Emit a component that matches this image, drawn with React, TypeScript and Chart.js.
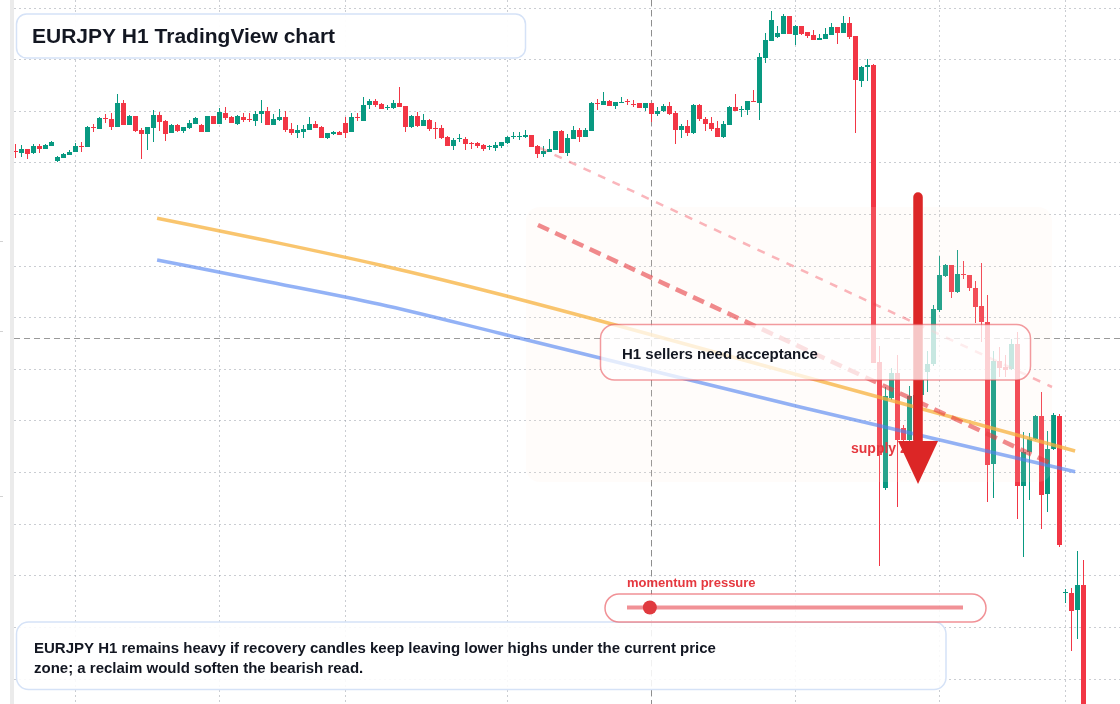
import React, { useEffect, useRef } from 'react';
import { Chart, registerables } from 'chart.js';

Chart.register(...registerables);

const FONT = '"Liberation Sans", Arial, Helvetica, sans-serif';

// ---- EURJPY H1 candles (one per hour) ----
const opens = [
  163.396, 163.388, 163.404, 163.388, 163.416, 163.404, 163.416, 163.356, 163.368, 163.380,
  163.392, 163.416, 163.412, 163.492, 163.484, 163.528, 163.524, 163.492, 163.588, 163.500,
  163.536, 163.480, 163.464, 163.488, 163.540, 163.516, 163.468, 163.500, 163.476, 163.488,
  163.504, 163.500, 163.472, 163.536, 163.504, 163.548, 163.532, 163.504, 163.532, 163.524,
  163.516, 163.544, 163.556, 163.500, 163.520, 163.532, 163.484, 163.468, 163.472, 163.480,
  163.504, 163.492, 163.448, 163.464, 163.472, 163.508, 163.472, 163.532, 163.516, 163.580,
  163.596, 163.584, 163.568, 163.568, 163.588, 163.576, 163.492, 163.536, 163.496, 163.520,
  163.488, 163.488, 163.452, 163.416, 163.444, 163.444, 163.428, 163.428, 163.420, 163.412,
  163.408, 163.416, 163.428, 163.452, 163.452, 163.452, 163.460, 163.416, 163.384, 163.392,
  163.400, 163.476, 163.388, 163.444, 163.480, 163.452, 163.476, 163.588, 163.580, 163.596,
  163.576, 163.588, 163.596, 163.584, 163.588, 163.568, 163.588, 163.544, 163.556, 163.576,
  163.548, 163.480, 163.496, 163.468, 163.580, 163.524, 163.508, 163.488, 163.452, 163.500,
  163.572, 163.560, 163.560, 163.596, 163.588, 163.768, 163.836, 163.852, 163.864, 163.936,
  163.860, 163.896, 163.872, 163.860, 163.840, 163.844, 163.860, 163.892, 163.868, 163.908,
  163.856, 163.676, 163.732, 163.740, 162.552, 162.048, 162.408, 162.508, 162.288, 162.240,
  162.240, 162.420, 162.512, 162.544, 162.760, 162.896, 162.940, 162.832, 162.904, 162.900,
  162.848, 162.776, 162.712, 162.144, 162.556, 162.532, 162.524, 162.624, 162.056, 162.192,
  162.244, 162.336, 162.024, 162.204, 162.336, 161.628, 161.628, 161.560, 161.660,
];
const highs = [
  163.424, 163.420, 163.404, 163.424, 163.424, 163.424, 163.436, 163.376, 163.388, 163.400,
  163.428, 163.432, 163.496, 163.504, 163.532, 163.544, 163.548, 163.624, 163.600, 163.540,
  163.536, 163.488, 163.492, 163.560, 163.552, 163.520, 163.504, 163.504, 163.492, 163.520,
  163.532, 163.504, 163.536, 163.536, 163.568, 163.572, 163.536, 163.540, 163.548, 163.548,
  163.556, 163.600, 163.572, 163.544, 163.564, 163.556, 163.508, 163.500, 163.500, 163.532,
  163.516, 163.496, 163.468, 163.476, 163.476, 163.532, 163.548, 163.548, 163.612, 163.604,
  163.604, 163.588, 163.580, 163.600, 163.652, 163.576, 163.540, 163.552, 163.544, 163.524,
  163.512, 163.500, 163.456, 163.448, 163.464, 163.452, 163.432, 163.432, 163.424, 163.420,
  163.432, 163.432, 163.456, 163.472, 163.472, 163.480, 163.460, 163.420, 163.416, 163.444,
  163.476, 163.480, 163.464, 163.496, 163.488, 163.488, 163.592, 163.604, 163.632, 163.600,
  163.592, 163.612, 163.604, 163.600, 163.588, 163.588, 163.588, 163.572, 163.584, 163.592,
  163.556, 163.504, 163.520, 163.584, 163.584, 163.532, 163.532, 163.516, 163.516, 163.576,
  163.624, 163.576, 163.596, 163.640, 163.788, 163.868, 163.956, 163.896, 163.944, 163.936,
  163.900, 163.896, 163.872, 163.880, 163.864, 163.888, 163.908, 163.892, 163.936, 163.932,
  163.856, 163.736, 163.764, 163.744, 162.616, 162.452, 162.528, 162.580, 162.300, 162.456,
  162.448, 162.512, 162.596, 162.780, 162.976, 162.944, 162.940, 163.000, 162.956, 162.900,
  162.876, 162.948, 162.820, 162.596, 162.612, 162.580, 162.644, 162.672, 162.272, 162.268,
  162.340, 162.432, 162.276, 162.348, 162.344, 161.644, 161.648, 161.796, 161.760,
];
const lows = [
  163.368, 163.372, 163.364, 163.384, 163.388, 163.404, 163.416, 163.352, 163.368, 163.380,
  163.392, 163.392, 163.412, 163.472, 163.484, 163.508, 163.480, 163.492, 163.500, 163.500,
  163.472, 163.364, 163.400, 163.432, 163.476, 163.436, 163.468, 163.472, 163.468, 163.484,
  163.504, 163.472, 163.472, 163.504, 163.504, 163.520, 163.508, 163.500, 163.512, 163.512,
  163.496, 163.508, 163.500, 163.500, 163.516, 163.472, 163.460, 163.448, 163.448, 163.480,
  163.488, 163.448, 163.444, 163.460, 163.460, 163.448, 163.472, 163.516, 163.516, 163.564,
  163.572, 163.564, 163.560, 163.564, 163.572, 163.472, 163.488, 163.492, 163.496, 163.476,
  163.444, 163.444, 163.416, 163.400, 163.432, 163.400, 163.404, 163.408, 163.396, 163.400,
  163.396, 163.408, 163.424, 163.444, 163.440, 163.448, 163.412, 163.368, 163.372, 163.392,
  163.400, 163.388, 163.376, 163.444, 163.432, 163.452, 163.476, 163.560, 163.580, 163.576,
  163.564, 163.588, 163.580, 163.572, 163.568, 163.556, 163.512, 163.536, 163.552, 163.540,
  163.424, 163.448, 163.456, 163.464, 163.516, 163.476, 163.476, 163.452, 163.448, 163.500,
  163.556, 163.532, 163.540, 163.592, 163.520, 163.748, 163.836, 163.848, 163.864, 163.864,
  163.820, 163.860, 163.848, 163.840, 163.840, 163.844, 163.860, 163.824, 163.868, 163.844,
  163.468, 163.652, 163.676, 162.548, 161.736, 162.040, 162.400, 161.972, 162.220, 162.216,
  162.216, 162.408, 162.432, 162.536, 162.752, 162.892, 162.808, 162.828, 162.884, 162.836,
  162.708, 162.632, 161.992, 162.008, 162.492, 162.492, 162.520, 161.924, 161.772, 162.000,
  162.240, 161.884, 161.952, 162.200, 161.812, 161.588, 161.396, 161.444, 161.120,
];
const closes = [
  163.392, 163.404, 163.384, 163.416, 163.404, 163.420, 163.432, 163.372, 163.384, 163.392,
  163.416, 163.412, 163.492, 163.488, 163.528, 163.524, 163.492, 163.588, 163.500, 163.536,
  163.476, 163.464, 163.492, 163.540, 163.512, 163.464, 163.500, 163.476, 163.492, 163.508,
  163.528, 163.472, 163.536, 163.504, 163.552, 163.528, 163.508, 163.536, 163.520, 163.520,
  163.544, 163.556, 163.500, 163.524, 163.532, 163.480, 163.468, 163.480, 163.484, 163.504,
  163.488, 163.448, 163.468, 163.472, 163.460, 163.468, 163.532, 163.528, 163.580, 163.596,
  163.580, 163.564, 163.572, 163.588, 163.572, 163.492, 163.536, 163.496, 163.520, 163.484,
  163.484, 163.448, 163.416, 163.440, 163.448, 163.424, 163.424, 163.416, 163.404, 163.416,
  163.420, 163.432, 163.452, 163.456, 163.456, 163.460, 163.412, 163.384, 163.396, 163.404,
  163.476, 163.388, 163.448, 163.480, 163.452, 163.480, 163.588, 163.584, 163.596, 163.576,
  163.592, 163.592, 163.592, 163.580, 163.568, 163.588, 163.544, 163.556, 163.576, 163.544,
  163.480, 163.496, 163.468, 163.580, 163.524, 163.504, 163.484, 163.452, 163.504, 163.572,
  163.556, 163.564, 163.596, 163.592, 163.772, 163.840, 163.920, 163.868, 163.936, 163.864,
  163.896, 163.864, 163.856, 163.840, 163.848, 163.864, 163.892, 163.868, 163.908, 163.852,
  163.680, 163.732, 163.740, 162.548, 162.180, 162.416, 162.508, 162.240, 162.240, 162.416,
  162.420, 162.480, 162.544, 162.764, 162.900, 162.940, 162.832, 162.904, 162.900, 162.848,
  162.772, 162.712, 162.140, 162.556, 162.528, 162.520, 162.624, 162.056, 162.192, 162.244,
  162.336, 162.020, 162.204, 162.340, 161.820, 161.632, 161.556, 161.660, 161.120,
];

// day separators (candle index) and price grid levels
const dayGridIndex = [10, 34, 55, 82, 106, 130, 154, 175];
const priceGrid = [
  163.968, 163.7615, 163.5551, 163.3486, 163.1422, 162.9357, 162.7292,
  162.5228, 162.3163, 162.1099, 161.9034, 161.6969, 161.4905, 161.284,
];

// moving averages
const maFastIdx = [23.6, 41, 60.7, 80.7, 128, 176.6];
const maFastVals = [163.127, 163.042, 162.94, 162.823, 162.516, 162.196];
const maSlowIdx = [23.6, 41, 60.7, 80.7, 130.75, 176.6];
const maSlowVals = [162.96, 162.878, 162.783, 162.667, 162.372, 162.113];

// drawn trendlines
const upperTrendIdx = [87.42, 172.75];
const upperTrendVals = [163.408, 162.452];
const lowerTrendIdx = [87.08, 172.75];
const lowerTrendVals = [163.1, 162.144];

// annotations anchored in time/price
const zoneIdx = [85.08, 172.75];
const zoneVals = [163.172, 162.072];
const crossIdx = 106.08;
const crossPrice = 162.648;
const arrowIdx = 150.42;
const arrowVals = [163.212, 162.064];
const edgeMarks = [163.032, 162.676, 162.016];
const momentumValue = 0.068;

const titleText = 'EURJPY H1 TradingView chart';
const calloutText = 'H1 sellers need acceptance';
const zoneLabel = 'supply zone';
const gaugeLabel = 'momentum pressure';
const noteLines = [
  'EURJPY H1 remains heavy if recovery candles keep leaving lower highs under the current price',
  'zone; a reclaim would soften the bearish read.',
];

const X_MIN = -0.25;
const X_MAX = 184.0833;
const Y_MIN = 161.184;
const Y_MAX = 164.0;

const UP = '#089981';
const DOWN = '#f23645';

function rrPath(ctx: CanvasRenderingContext2D, x: number, y: number, w: number, h: number, r: number) {
  ctx.beginPath();
  ctx.moveTo(x + r, y);
  ctx.arcTo(x + w, y, x + w, y + h, r);
  ctx.arcTo(x + w, y + h, x, y + h, r);
  ctx.arcTo(x, y + h, x, y, r);
  ctx.arcTo(x, y, x + w, y, r);
  ctx.closePath();
}

function panel(ctx: CanvasRenderingContext2D, x: number, y: number, w: number, h: number, r: number, fill: string, stroke: string, lw: number) {
  rrPath(ctx, x, y, w, h, r);
  ctx.fillStyle = fill;
  ctx.fill();
  ctx.lineWidth = lw;
  ctx.strokeStyle = stroke;
  ctx.stroke();
}

const overlayPlugin = {
  id: 'overlay',
  beforeDraw(chart: any) {
    const { ctx } = chart;
    const ys = chart.scales.y;
    ctx.save();
    ctx.fillStyle = '#ffffff';
    ctx.fillRect(0, 0, chart.width, chart.height);
    ctx.fillStyle = '#ebebeb';
    ctx.fillRect(10, 0, 4, chart.height);
    ctx.strokeStyle = '#d2d2d2';
    ctx.lineWidth = 1;
    for (const v of edgeMarks) {
      const py = Math.floor(ys.getPixelForValue(v)) + 0.5;
      ctx.beginPath();
      ctx.moveTo(0, py);
      ctx.lineTo(3, py);
      ctx.stroke();
    }
    ctx.restore();
  },
  beforeDatasetsDraw(chart: any) {
    const { ctx, chartArea: a } = chart;
    const xs = chart.scales.x;
    const ys = chart.scales.y;
    ctx.save();
    ctx.beginPath();
    ctx.rect(a.left, a.top, a.right - a.left, a.bottom - a.top);
    ctx.clip();
    ctx.strokeStyle = '#9a9a9a';
    ctx.lineWidth = 1;
    ctx.setLineDash([6, 4]);
    const cy = Math.floor(ys.getPixelForValue(crossPrice)) + 0.5;
    ctx.beginPath();
    ctx.moveTo(a.left, cy);
    ctx.lineTo(a.right, cy);
    ctx.stroke();
    const cx = Math.floor(xs.getPixelForValue(crossIdx)) + 0.5;
    ctx.strokeStyle = '#8e8e8e';
    ctx.beginPath();
    ctx.moveTo(cx, a.top);
    ctx.lineTo(cx, a.bottom);
    ctx.stroke();
    ctx.restore();
  },
  afterDatasetDraw(chart: any, args: any) {
    if (args.index !== 1) return;
    const { ctx } = chart;
    const xs = chart.scales.x;
    const ys = chart.scales.y;
    const x1 = xs.getPixelForValue(zoneIdx[0]);
    const x2 = xs.getPixelForValue(zoneIdx[1]);
    const y1 = ys.getPixelForValue(zoneVals[0]);
    const y2 = ys.getPixelForValue(zoneVals[1]);
    ctx.save();
    rrPath(ctx, x1, y1, x2 - x1, y2 - y1, 14);
    ctx.fillStyle = 'rgba(255,232,216,0.13)';
    ctx.fill();
    ctx.restore();
  },
  afterDatasetsDraw(chart: any) {
    const { ctx } = chart;
    const xs = chart.scales.x;
    const ys = chart.scales.y;
    ctx.save();

    // supply zone label (under the arrow head)
    ctx.font = `700 14px ${FONT}`;
    ctx.fillStyle = '#e5383f';
    ctx.textBaseline = 'alphabetic';
    ctx.fillText(zoneLabel, 851, 453);

    // arrow
    const ax = xs.getPixelForValue(arrowIdx);
    const aTop = ys.getPixelForValue(arrowVals[0]);
    const aTip = ys.getPixelForValue(arrowVals[1]);
    ctx.strokeStyle = '#dc2626';
    ctx.fillStyle = '#dc2626';
    ctx.lineWidth = 9.5;
    ctx.lineCap = 'round';
    ctx.beginPath();
    ctx.moveTo(ax, aTop);
    ctx.lineTo(ax, aTip - 40);
    ctx.stroke();
    ctx.beginPath();
    ctx.moveTo(ax - 20, aTip - 43);
    ctx.lineTo(ax + 20, aTip - 43);
    ctx.lineTo(ax, aTip);
    ctx.closePath();
    ctx.fill();
    ctx.lineCap = 'butt';

    // callout box
    panel(ctx, 600.5, 324.5, 430, 55.5, 14, 'rgba(255,255,255,0.74)', 'rgba(232,72,80,0.55)', 1.5);
    ctx.font = `700 15px ${FONT}`;
    ctx.fillStyle = '#131722';
    ctx.fillText(calloutText, 622, 359);

    // title
    panel(ctx, 16.5, 14, 509, 44, 10, 'rgba(255,255,255,0.95)', '#d5e2f7', 1.5);
    ctx.font = `700 21px ${FONT}`;
    ctx.fillStyle = '#131722';
    ctx.fillText(titleText, 32, 43);

    // bottom note
    panel(ctx, 16.5, 622, 929.5, 67.5, 12, 'rgba(255,255,255,0.88)', '#d5e2f7', 1.5);
    ctx.font = `700 15px ${FONT}`;
    ctx.fillStyle = '#131722';
    ctx.fillText(noteLines[0], 34, 653);
    ctx.fillText(noteLines[1], 34, 673);

    // momentum gauge
    ctx.font = `700 13px ${FONT}`;
    ctx.fillStyle = '#e5383f';
    ctx.fillText(gaugeLabel, 627, 587);
    panel(ctx, 605, 594, 381, 28, 14, 'rgba(255,255,255,0.85)', 'rgba(232,72,80,0.6)', 1.5);
    const t0 = 627;
    const t1 = 963;
    ctx.strokeStyle = 'rgba(232,72,80,0.6)';
    ctx.lineWidth = 4;
    ctx.beginPath();
    ctx.moveTo(t0, 607.5);
    ctx.lineTo(t1, 607.5);
    ctx.stroke();
    ctx.fillStyle = '#e03a3f';
    ctx.beginPath();
    ctx.arc(t0 + (t1 - t0) * momentumValue, 607.5, 7, 0, Math.PI * 2);
    ctx.fill();

    ctx.restore();
  },
};

export default function App() {
  const ref = useRef<HTMLCanvasElement>(null);

  useEffect(() => {
    const canvas = ref.current;
    if (!canvas) return;
    const idx = opens.map((_, i) => i);
    const colors = idx.map((i) => (closes[i] >= opens[i] ? UP : DOWN));
    const toPts = (xs: number[], ys: number[]) => xs.map((x, i) => ({ x, y: ys[i] }));

    const gridColor = 'rgba(150,156,166,0.5)';

    const chart = new Chart(canvas, {
      type: 'line',
      data: {
        datasets: [
          {
            type: 'bar',
            label: 'wicks',
            data: idx.map((i) => ({ x: i, y: [lows[i], highs[i]] })) as any,
            backgroundColor: colors,
            barThickness: 1,
            grouped: false,
            inflateAmount: 0,
            minBarLength: 1,
            order: 6,
          } as any,
          {
            type: 'bar',
            label: 'bodies',
            data: idx.map((i) => ({ x: i, y: [opens[i], closes[i]] })) as any,
            backgroundColor: colors,
            barThickness: 5,
            grouped: false,
            inflateAmount: 0,
            minBarLength: 1,
            order: 5,
          } as any,
          {
            type: 'line',
            label: 'MA fast',
            data: toPts(maFastIdx, maFastVals),
            borderColor: 'rgba(247,178,62,0.75)',
            borderWidth: 3.5,
            pointRadius: 0,
            cubicInterpolationMode: 'monotone',
            fill: false,
            order: 3,
          },
          {
            type: 'line',
            label: 'MA slow',
            data: toPts(maSlowIdx, maSlowVals),
            borderColor: 'rgba(80,130,240,0.62)',
            borderWidth: 3.5,
            pointRadius: 0,
            cubicInterpolationMode: 'monotone',
            fill: false,
            order: 4,
          },
          {
            type: 'line',
            label: 'upper trend',
            data: toPts(upperTrendIdx, upperTrendVals),
            borderColor: 'rgba(242,54,69,0.36)',
            borderWidth: 2.5,
            borderDash: [8, 8],
            pointRadius: 0,
            fill: false,
            order: 2,
          },
          {
            type: 'line',
            label: 'lower trend',
            data: toPts(lowerTrendIdx, lowerTrendVals),
            borderColor: 'rgba(230,60,65,0.6)',
            borderWidth: 4.5,
            borderDash: [12, 7],
            pointRadius: 0,
            fill: false,
            order: 1,
          },
        ],
      },
      options: {
        animation: false,
        responsive: false,
        maintainAspectRatio: false,
        devicePixelRatio: 1,
        events: [],
        layout: { padding: { left: 14, right: 0, top: 0, bottom: 0 } },
        plugins: { legend: { display: false }, tooltip: { enabled: false }, title: { display: false } },
        scales: {
          x: {
            type: 'linear',
            min: X_MIN,
            max: X_MAX,
            offset: false,
            grid: { color: gridColor, lineWidth: 1, drawTicks: false, tickLength: 0, offset: false },
            border: { display: false, dash: [2, 3] },
            ticks: { display: false },
            afterBuildTicks: (axis: any) => {
              axis.ticks = dayGridIndex.map((v) => ({ value: v }));
            },
          },
          y: {
            type: 'linear',
            min: Y_MIN,
            max: Y_MAX,
            offset: false,
            grid: { color: gridColor, lineWidth: 1, drawTicks: false, tickLength: 0 },
            border: { display: false, dash: [2, 3] },
            ticks: { display: false },
            afterBuildTicks: (axis: any) => {
              axis.ticks = priceGrid.map((v) => ({ value: v }));
            },
          },
        },
      } as any,
      plugins: [overlayPlugin as any],
    });

    return () => chart.destroy();
  }, []);

  return (
    <div style={{ position: 'fixed', left: 0, top: 0, width: 1120, height: 704, background: '#ffffff' }}>
      <canvas ref={ref} width={1120} height={704} style={{ display: 'block', width: 1120, height: 704 }} />
    </div>
  );
}
